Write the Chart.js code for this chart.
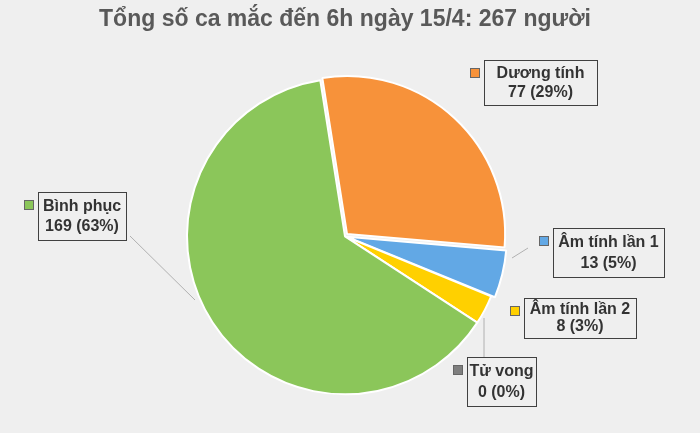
<!DOCTYPE html>
<html><head><meta charset="utf-8">
<script src="https://cdn.jsdelivr.net/npm/chart.js@4"></script>
<style>html,body{margin:0;background:#efefef}#w{width:700px;height:433px}</style>
</head><body><div id="w"><canvas id="c"></canvas></div>
<script>
const categories = ["Dương tính","Âm tính lần 1","Âm tính lần 2","Tử vong","Bình phục"];
const values = [77,13,8,0,169];
const percents = ["29%","5%","3%","0%","63%"];
const colors = ["#f7923a","#62a8e5","#ffd000","#7f7f7f","#8bc65a"];
const offsets = [12,9,0,0,0];
const boxes = [
 {x:484,y:60,w:113,h:45, line:null},
 {x:553,y:228,w:111,h:49, line:[512,258,528,248]},
 {x:524,y:298,w:112,h:40, line:null},
 {x:467,y:357,w:69,h:49, line:[484,318,484,357]},
 {x:38,y:192,w:88,h:48, line:[130,236,195,300]}
];
const labelPlugin = {
 id:'labels',
 afterDraw(chart){
  const ctx=chart.ctx;
  ctx.save();
  boxes.forEach((b,i)=>{
   if(b.line){ctx.strokeStyle='#b0b0b0';ctx.lineWidth=1;ctx.beginPath();ctx.moveTo(b.line[0],b.line[1]);ctx.lineTo(b.line[2],b.line[3]);ctx.stroke();}
   ctx.fillStyle='#efefef';ctx.fillRect(b.x,b.y,b.w,b.h);
   ctx.strokeStyle='#404040';ctx.lineWidth=1;ctx.strokeRect(b.x+0.5,b.y+0.5,b.w,b.h);
   ctx.fillStyle=colors[i];ctx.fillRect(b.x-14,b.y+8,10,10);
   ctx.strokeStyle='#666';ctx.strokeRect(b.x-14+0.5,b.y+8.5,9,9);
   ctx.fillStyle='#333';ctx.font='bold 16px "Liberation Sans", Arial, sans-serif';
   ctx.textAlign='center';ctx.textBaseline='middle';
   const cx=b.x+b.w/2;
   ctx.fillText(categories[i],cx,b.y+b.h*0.3);
   ctx.fillText(values[i]+" ("+percents[i]+")",cx,b.y+b.h*0.72);
  });
  ctx.restore();
 }
};
new Chart(document.getElementById('c'),{
 type:'pie',
 data:{labels:categories,datasets:[{data:values,backgroundColor:colors,borderColor:'#ffffff',borderWidth:2,
   offset:(c)=>offsets[c.dataIndex],radius:158}]},
 options:{responsive:true,maintainAspectRatio:false,animation:false,rotation:-9,
  layout:{padding:{right:10,bottom:4}},
  plugins:{legend:{display:false},tooltip:{enabled:false},
   title:{display:true,text:"Tổng số ca mắc đến 6h ngày 15/4: 267 người",color:'#595959',font:{size:23,weight:'bold',family:'"Liberation Sans", Arial, sans-serif'},padding:{top:6,bottom:10}}}},
 plugins:[labelPlugin]
});
</script></body></html>
